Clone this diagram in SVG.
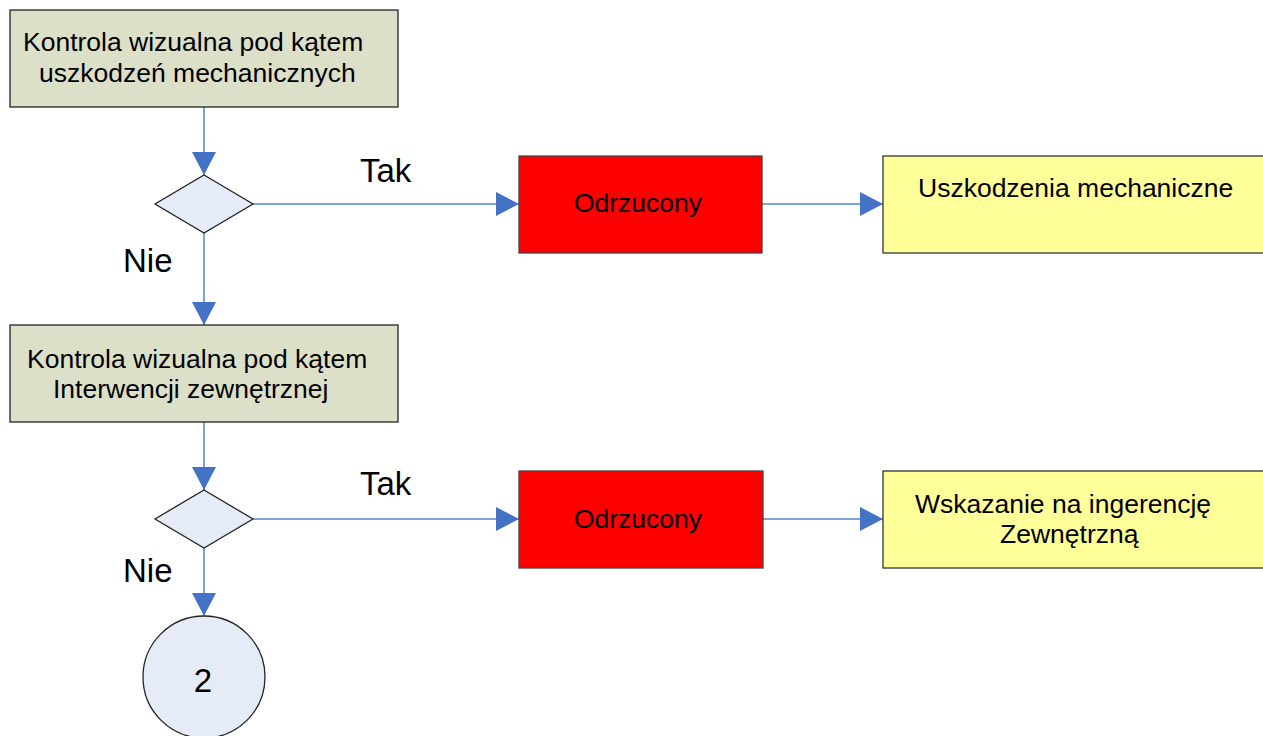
<svg xmlns="http://www.w3.org/2000/svg" width="1263" height="736" viewBox="0 0 1263 736">
<defs>
<marker id="arr" markerUnits="userSpaceOnUse" markerWidth="23" markerHeight="24" refX="23" refY="12" orient="auto">
<path d="M0,0 L23,12 L0,24 Z" fill="#4472c4"/>
</marker>
<style>
.t{font-family:"Liberation Sans",Arial,sans-serif;fill:#000}
.box{font-size:26.5px}
.lbl{font-size:33px}
.proc{fill:#dde0c9;stroke:#222;stroke-width:1.3}
.dec{fill:#e6ecf7;stroke:#222;stroke-width:1.3}
.rej{fill:#ff0000;stroke:#444;stroke-width:1.3}
.res{fill:#ffff99;stroke:#333;stroke-width:1.3}
.c{stroke:#5585cc;stroke-width:1.5;fill:none;marker-end:url(#arr)}
</style>
</defs>
<rect width="1263" height="736" fill="#fff"/>
<g id="connectors">
<line class="c" x1="204" y1="107" x2="204" y2="175"/>
<line class="c" x1="253" y1="204" x2="519" y2="204"/>
<line class="c" x1="762" y1="204" x2="883" y2="204"/>
<line class="c" x1="204" y1="233" x2="204" y2="325"/>
<line class="c" x1="204" y1="422" x2="204" y2="490"/>
<line class="c" x1="253" y1="519" x2="519" y2="519"/>
<line class="c" x1="763" y1="519" x2="883" y2="519"/>
<line class="c" x1="204" y1="548" x2="204" y2="616"/>
</g>
<g id="labels">
<text class="t lbl" x="360" y="182">Tak</text>
<text class="t lbl" x="123" y="272">Nie</text>
<text class="t lbl" x="360" y="495">Tak</text>
<text class="t lbl" x="123" y="582">Nie</text>
</g>
<g id="proc1">
<rect class="proc" x="10" y="10" width="388" height="97"/>
<text class="t box" x="23" y="51">Kontrola wizualna pod kątem</text>
<text class="t box" x="39" y="82">uszkodzeń mechanicznych</text>
</g>
<g id="dec1">
<polygon class="dec" points="204,175 253,204 204,233 155,204"/>
</g>
<g id="rej1">
<rect class="rej" x="519" y="156" width="243" height="97"/>
<text class="t box" x="638" y="212" text-anchor="middle">Odrzucony</text>
</g>
<g id="res1">
<rect class="res" x="883" y="156" width="400" height="97"/>
<text class="t box" x="918" y="197">Uszkodzenia mechaniczne</text>
</g>
<g id="proc2">
<rect class="proc" x="10" y="325" width="388" height="97"/>
<text class="t box" x="27" y="368">Kontrola wizualna pod kątem</text>
<text class="t box" x="53" y="398">Interwencji zewnętrznej</text>
</g>
<g id="dec2">
<polygon class="dec" points="204,490 253,519 204,548 155,519"/>
</g>
<g id="rej2">
<rect class="rej" x="519" y="471" width="244" height="97"/>
<text class="t box" x="638" y="528" text-anchor="middle">Odrzucony</text>
</g>
<g id="res2">
<rect class="res" x="883" y="471" width="400" height="97"/>
<text class="t box" x="915" y="513">Wskazanie na ingerencję</text>
<text class="t box" x="1000" y="543">Zewnętrzną</text>
</g>
<g id="conn2">
<circle class="dec" cx="204" cy="677" r="61"/>
<text class="t lbl" x="203" y="692" text-anchor="middle">2</text>
</g>
</svg>
